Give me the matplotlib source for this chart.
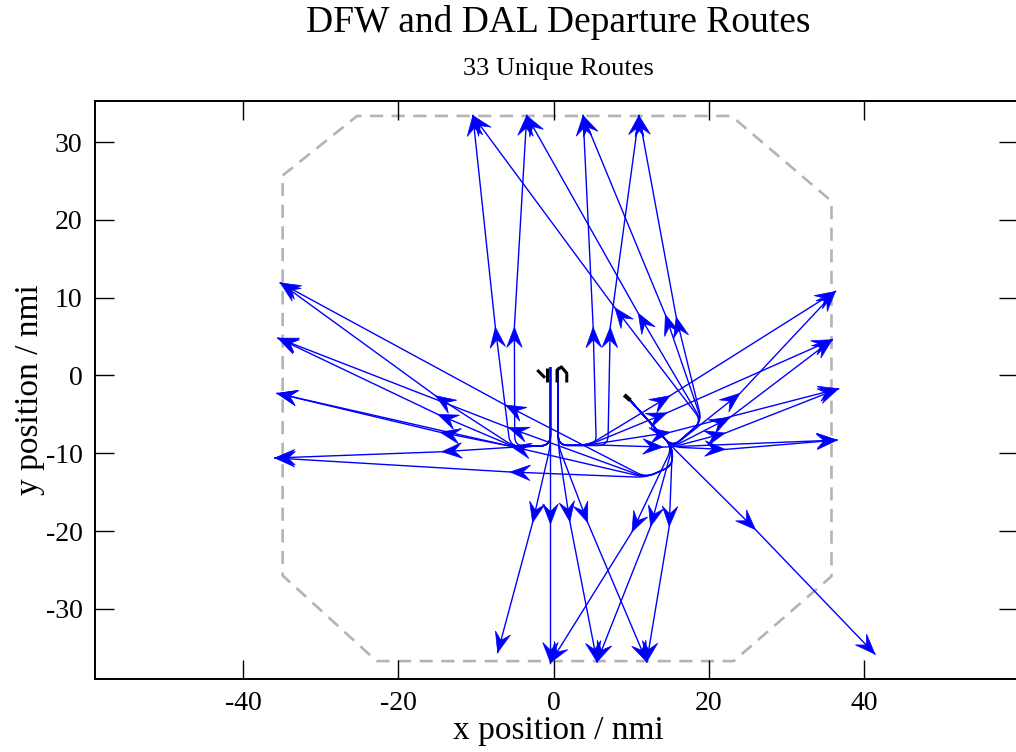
import numpy as np
import matplotlib
matplotlib.use("Agg")
import matplotlib.pyplot as plt
from matplotlib.patches import Polygon

plt.rcParams['font.family'] = ['Liberation Serif', 'DejaVu Serif']
plt.rcParams['axes.unicode_minus'] = False

# ---- terminal area boundary (nmi from DFW) ----
boundary_x = [-34.9, -25.3, 22.9, 35.8, 35.8, 23.2, -22.8, -34.9, -34.9]
boundary_y = [25.7, 33.35, 33.35, 22.4, -25.8, -36.7, -36.7, -25.7, 25.7]

# ---- runways (black) ----
dfw_runways = [
    [(-2.1, 0.7), (-1.1, -0.3)],
    [(-0.8, 1.0), (-0.8, -0.9)],
    [(0.45, -0.9), (0.45, 0.7), (1.0, 1.1), (1.7, 0.3), (1.7, -0.9)],
]
dal_runway = [(9.1, -2.5), (9.9, -3.2)]

# ---- departure start points and turn points ----
dfw_w_start = (-0.4, 1.0)
dfw_e_start = (0.6, 0.9)
dal_start = (9.6, -2.9)
dfw_w_corner = (-0.4, -9.0)
dfw_e_corner = (0.6, -9.0)
hub_a = (-5.0, -9.2)
hub_b = (4.6, -8.9)
hub_c = (11.9, -13.1)
hub_d = (15.3, -9.2)
hub_e = (19.1, -5.9)
dal_sw_corner = (15.3, -11.6)
dfw_uturn_w = [(-5.6, -9.1), (-5.0, -9.1)]
dfw_uturn_e = [(5.5, -9.0), (7.0, -9.0)]

# ---- exit fixes on the boundary ----
exit_north = [(-10.4, 33.4), (-3.46, 33.4), (3.8, 33.4), (11.0, 33.4)]
exit_east = [(36.3, 10.8), (35.9, 4.6), (36.7, -1.7), (36.5, -8.3)]
exit_west = [(-35.2, 11.9), (-35.5, 4.8), (-35.6, -2.3), (-35.9, -10.6)]
exit_south = [(-7.2, -35.6), (-0.4, -36.9), (5.6, -36.8), (12.0, -36.8)]
exit_southeast = (41.4, -35.8)

# ---- intermediate fixes ----
mid_north_dfw = [(-7.5, 6.2), (-5.05, 6.2), (5.1, 6.2), (7.3, 6.2)]
mid_north_dal = [(7.9, 8.7), (10.9, 8.0), (14.4, 7.8), (15.8, 7.5)]
mid_east_dfw = [(15.0, -2.6), (14.6, -4.8), (15.0, -7.3), (14.1, -9.2)]
mid_east_dal = [(24.0, -2.3), (22.7, -5.4), (22.1, -7.4), (22.1, -9.5)]
mid_west_dfw = [(-15.2, -2.6), (-14.9, -5.0), (-14.6, -7.3), (-14.4, -9.8)]
mid_west_dal = [(-6.2, -3.8), (-5.8, -6.7), (-5.5, -9.1), (-5.6, -12.4)]
mid_south_dfw = [(-2.7, -18.9), (-0.4, -19.1), (2.1, -18.8), (4.4, -18.9)]
mid_south_dal = [(10.1, -20.1), (12.5, -19.4), (14.9, -19.4)]
mid_southeast = (26.0, -19.8)

# ---- build the route list: start, turns..., intermediate fix, exit fix ----
routes = []
for i in range(2):
    routes.append([dfw_w_start, dfw_w_corner, dfw_uturn_w[i], mid_north_dfw[i], exit_north[i]])
    routes.append([dfw_e_start, dfw_e_corner, dfw_uturn_e[i], mid_north_dfw[i + 2], exit_north[i + 2]])
for i in range(4):
    routes.append([dfw_w_start, dfw_w_corner, hub_a, mid_west_dfw[i], exit_west[i]])
    routes.append([dfw_e_start, dfw_e_corner, hub_b, mid_east_dfw[i], exit_east[i]])
    routes.append([dal_start, hub_d, hub_e, mid_north_dal[i], exit_north[i]])
    routes.append([dal_start, hub_d, mid_east_dal[i], exit_east[i]])
    routes.append([dal_start, hub_d, dal_sw_corner, hub_c, mid_west_dal[i], exit_west[i]])
routes.append([dfw_w_start, dfw_w_corner, mid_south_dfw[0], exit_south[0]])
routes.append([dfw_w_start, mid_south_dfw[1], exit_south[1]])
routes.append([dfw_e_start, dfw_e_corner, mid_south_dfw[2], exit_south[2]])
routes.append([dfw_e_start, dfw_e_corner, mid_south_dfw[3], exit_south[3]])
for i in range(3):
    routes.append([dal_start, hub_d, mid_south_dal[i], exit_south[i + 1]])
routes.append([dal_start, hub_d, mid_southeast, exit_southeast])

ROUTE_COLOR = '#0000ff'


def rounded_path(pts, radius=1.3, steps=16):
    """Polyline with the turn points filleted; the two fixes stay sharp."""
    pts = np.asarray(pts, float)
    out = [pts[0]]
    n = len(pts)
    for i in range(1, n - 1):
        p0, p1, p2 = pts[i - 1], pts[i], pts[i + 1]
        if i >= n - 2:
            out.append(p1)
            continue
        d1 = p1 - p0
        d2 = p2 - p1
        l1 = np.hypot(*d1)
        l2 = np.hypot(*d2)
        r = min(radius, 0.48 * l1, 0.48 * l2)
        a = p1 - d1 / l1 * r
        b = p1 + d2 / l2 * r
        t = np.linspace(0, 1, steps)[:, None]
        out.extend((1 - t) ** 2 * a + 2 * (1 - t) * t * p1 + t ** 2 * b)
    out.append(pts[-1])
    return np.array(out)


def arrow_head(ax, tail, tip, length=2.6, half_width=1.0, notch=0.62):
    tail = np.asarray(tail, float)
    tip = np.asarray(tip, float)
    u = tip - tail
    u /= np.hypot(*u)
    nrm = np.array([-u[1], u[0]])
    back = tip - length * u
    poly = [tip, back + half_width * nrm, tip - notch * length * u, back - half_width * nrm]
    ax.add_patch(Polygon(poly, closed=True, facecolor=ROUTE_COLOR,
                         edgecolor=ROUTE_COLOR, linewidth=0.5, zorder=4))


fig = plt.figure(figsize=(10.16, 7.52), dpi=100)
ax = fig.add_axes([95 / 1016, 1 - 679 / 752, (1017.5 - 95) / 1016, (679 - 101) / 752])
ax.set_xlim(-59.07, 59.76)
ax.set_ylim(-39.0, 35.27)

ax.plot(boundary_x, boundary_y, color='#b4b4b4', lw=1.9, dashes=(5, 3.2), zorder=1)

for route in routes:
    path = rounded_path(route)
    ax.plot(path[:, 0], path[:, 1], color=ROUTE_COLOR, lw=1.0, zorder=3)
    arrow_head(ax, route[-3], route[-2])
    arrow_head(ax, route[-2], route[-1])

for rw in dfw_runways:
    rx, ry = zip(*rw)
    ax.plot(rx, ry, color='black', lw=2.2, solid_capstyle='butt', zorder=5)
ax.plot(*zip(*dal_runway), color='black', lw=3.0, solid_capstyle='butt', zorder=5)

ax.set_xticks([-40, -20, 0, 20, 40])
ax.set_yticks([-30, -20, -10, 0, 10, 20, 30])
ax.tick_params(direction='in', top=True, right=True, length=14, width=1.0,
               labelsize=20, pad=9)
for sp in ax.spines.values():
    sp.set_linewidth(1.4)

fig.text(558 / 1016, 1 - 23 / 752, 'DFW and DAL Departure Routes', ha='center', va='center', fontsize=27)
fig.text(558 / 1016, 1 - 69 / 752, '33 Unique Routes', ha='center', va='center', fontsize=19)
fig.text(558 / 1016, 1 - 731 / 752, 'x position / nmi', ha='center', va='center', fontsize=24)
fig.text(30 / 1016, 1 - 390 / 752, 'y position / nmi', ha='center', va='center', fontsize=24, rotation=90)

fig.savefig('out.png', dpi=100)
